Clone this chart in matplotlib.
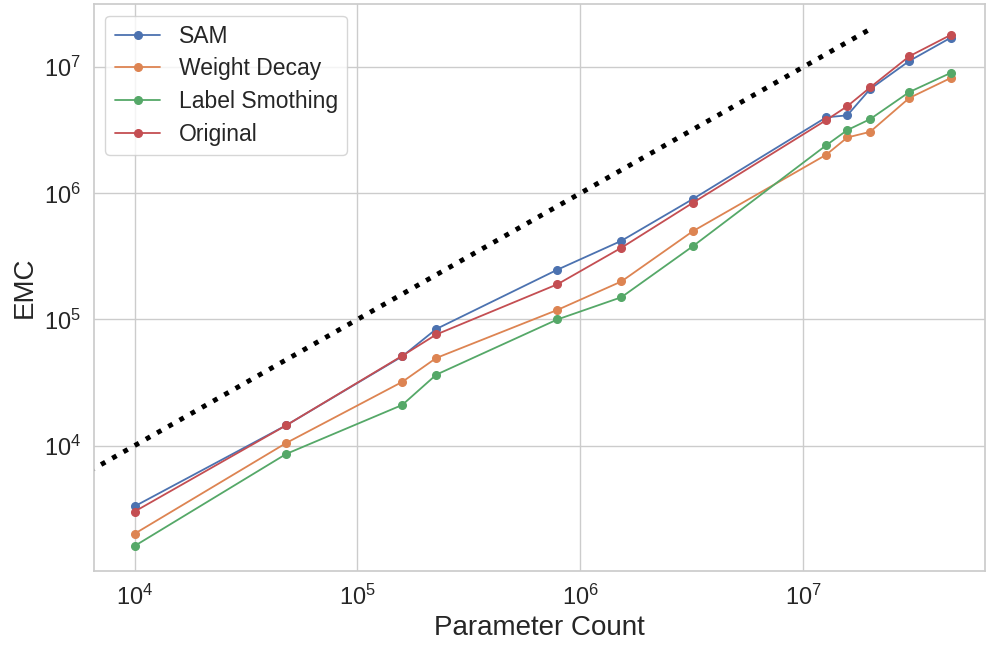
import numpy as np
import matplotlib
matplotlib.use("Agg")
import matplotlib.pyplot as plt
import seaborn as sns

sns.set_theme(style="whitegrid", palette="deep")
plt.rcParams["font.family"] = ["Liberation Sans", "DejaVu Sans"]

# parameter counts of the models
params = [1.0e4, 4.8e4, 1.59e5, 2.26e5, 7.9e5, 1.53e6, 3.2e6,
          1.27e7, 1.58e7, 2.0e7, 3.0e7, 4.6e7]

# effective model complexity per regularisation method
emc_sam = [3.3e3, 1.45e4, 5.1e4, 8.4e4, 2.48e5, 4.2e5, 9.0e5,
           4.0e6, 4.15e6, 6.7e6, 1.12e7, 1.71e7]
emc_wd = [2.0e3, 1.05e4, 3.2e4, 4.95e4, 1.19e5, 2.0e5, 5.0e5,
          2.02e6, 2.77e6, 3.07e6, 5.7e6, 8.2e6]
emc_ls = [1.6e3, 8.6e3, 2.1e4, 3.65e4, 1.0e5, 1.5e5, 3.8e5,
          2.4e6, 3.17e6, 3.87e6, 6.35e6, 9.0e6]
emc_orig = [3.0e3, 1.45e4, 5.15e4, 7.6e4, 1.9e5, 3.7e5, 8.4e5,
            3.8e6, 4.9e6, 6.9e6, 1.22e7, 1.8e7]

# reference line EMC = parameter count
ref_x = [5e3, 2e7]

fig = plt.figure(figsize=(9.86, 6.45), dpi=100)
ax = fig.add_axes([0.0953, 0.1147, 0.904, 0.879])

ax.plot(params, emc_sam, marker="o", markersize=5.5, linewidth=1.3, label="SAM")
ax.plot(params, emc_wd, marker="o", markersize=5.5, linewidth=1.3, label="Weight Decay")
ax.plot(params, emc_ls, marker="o", markersize=5.5, linewidth=1.3, label="Label Smothing")
ax.plot(params, emc_orig, marker="o", markersize=5.5, linewidth=1.3, label="Original")
ax.plot(ref_x, ref_x, color="black", linestyle=":", linewidth=3.5)

ax.set_xscale("log")
ax.set_yscale("log")
ax.set_xlim(10 ** 3.818, 10 ** 7.818)
ax.set_ylim(10 ** 3.006, 10 ** 7.5)

ax.tick_params(labelsize=17)
ax.set_xlabel("Parameter Count", fontsize=20)
ax.set_ylabel("EMC", fontsize=20)
ax.legend(loc="upper left", fontsize=16.5, labelspacing=0.42)

plt.savefig("out.png", dpi=100)
